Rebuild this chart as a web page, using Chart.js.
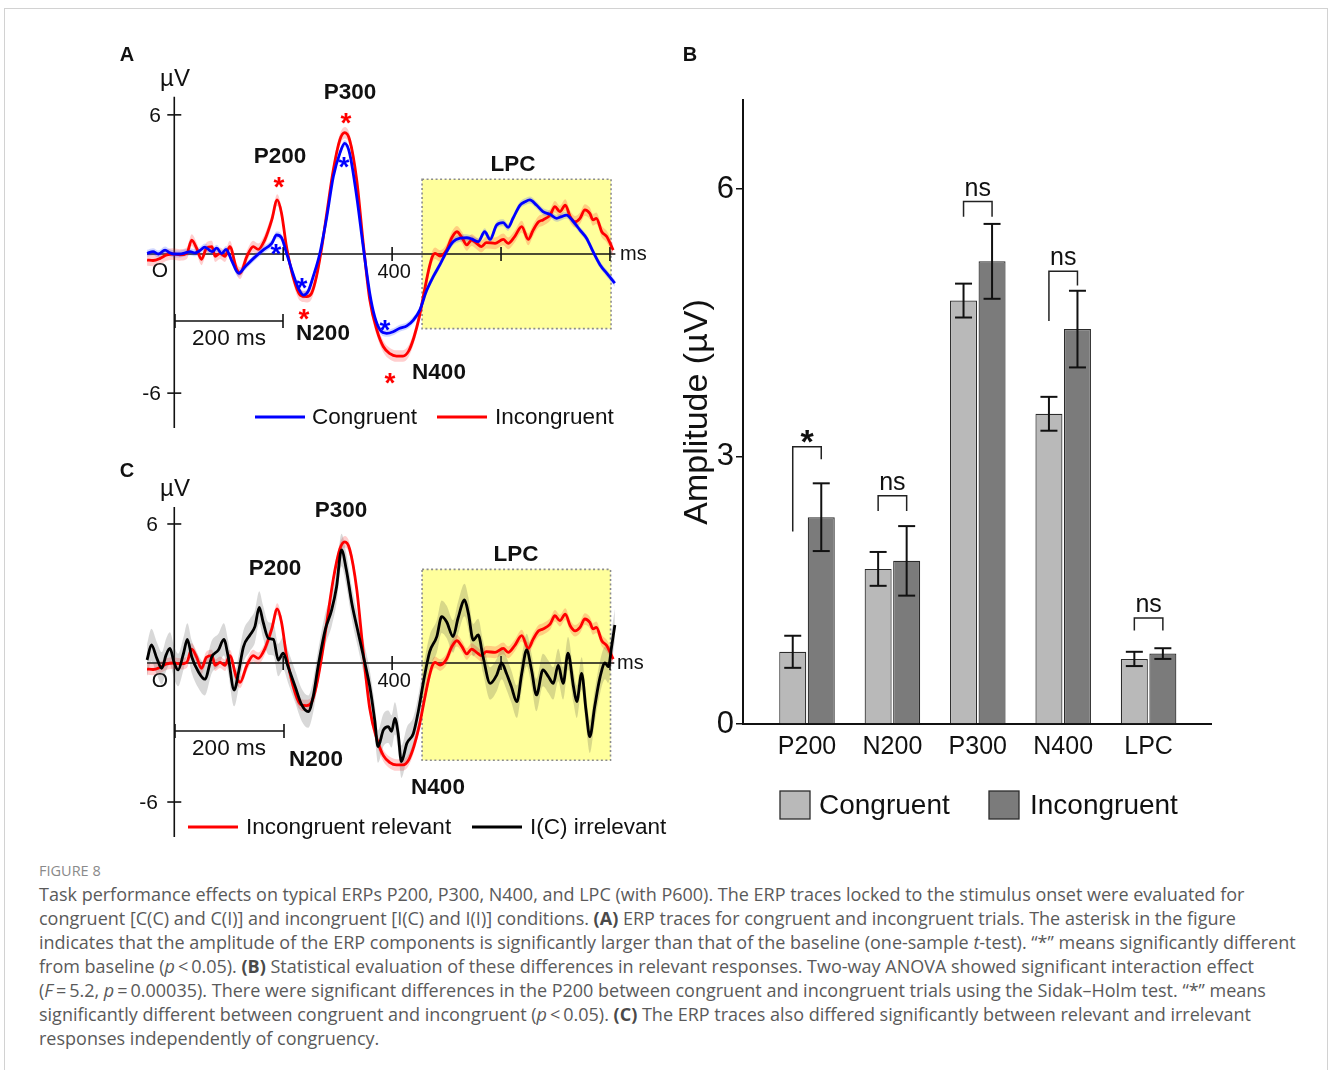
<!DOCTYPE html>
<html>
<head>
<meta charset="utf-8">
<script src="https://cdn.jsdelivr.net/npm/chart.js@4.4.1/dist/chart.umd.min.js"></script>
<style>
html,body{margin:0;padding:0;background:#fff;}
body{width:1328px;height:1070px;position:relative;overflow:hidden;font-family:"Liberation Sans",Arial,sans-serif;}
#frame{position:absolute;left:4px;top:8px;width:1324px;height:1120px;border:1px solid #d2d2d2;box-sizing:border-box;}
canvas{position:absolute;}
#cA{left:100px;top:40px;}
#cB{left:670px;top:40px;}
#cC{left:100px;top:450px;}
#figlabel{position:absolute;left:39px;top:861px;font-family:"Open Sans",Lato,sans-serif;font-size:14.5px;line-height:20px;color:#8a8a8a;}
#caption{position:absolute;left:39px;top:882px;font-family:"Open Sans",Lato,sans-serif;font-size:18px;line-height:24px;color:#5a5a5a;white-space:nowrap;}
#caption b{color:#4a4a4a;}
</style>
</head>
<body>
<div id="frame"></div>
<canvas id="cA" width="560" height="400"></canvas>
<canvas id="cC" width="580" height="400"></canvas>
<canvas id="cB" width="560" height="800"></canvas>
<div id="figlabel">FIGURE 8</div>
<div id="caption">Task performance effects on typical ERPs P200, P300, N400, and LPC (with P600). The ERP traces locked to the stimulus onset were evaluated for<br>congruent [C(C) and C(I)] and incongruent [I(C) and I(I)] conditions. <b>(A)</b> ERP traces for congruent and incongruent trials. The asterisk in the figure<br>indicates that the amplitude of the ERP components is significantly larger than that of the baseline (one-sample <i>t</i>-test). “*” means significantly different<br>from baseline (<i>p</i>&#8201;&lt;&#8201;0.05). <b>(B)</b> Statistical evaluation of these differences in relevant responses. Two-way ANOVA showed significant interaction effect<br>(<i>F</i>&#8201;=&#8201;5.2, <i>p</i>&#8201;=&#8201;0.00035). There were significant differences in the P200 between congruent and incongruent trials using the Sidak–Holm test. “*” means<br>significantly different between congruent and incongruent (<i>p</i>&#8201;&lt;&#8201;0.05). <b>(C)</b> The ERP traces also differed significantly between relevant and irrelevant<br>responses independently of congruency.</div>
<script>
// ---------------- DATA ----------------
// Panel A / C : ERP traces (time in ms, amplitude in µV)
const timeCongruent = [-50,-39,-29,-17,-8,0,10,20,29,38,47,56,69,78,87,95,105,118,130,145,163,179,188,197,206,218,228,237,246,255,267,280,292,304,313,322,335,347,359,368,378,390,402,414,427,439,451,463,475,488,500,512,525,537,546,558,570,580,592,604,613,622,635,644,653,665,677,690,702,711,720,733,745,757,769,782,794,809];
const congruentA = [0.03,0.1,0.0,0.17,0.05,0,0,0.05,0.1,0.05,0.15,0.3,0.1,0.25,0.02,0.2,-0.26,-0.83,-0.55,-0.2,0.17,0.46,0.82,0.7,0.05,-0.85,-1.48,-1.77,-1.6,-0.98,0,1.6,3.33,4.34,4.77,4.34,2.47,0.3,-1.7,-2.7,-3.28,-3.42,-3.35,-3.2,-3.1,-2.85,-2.41,-1.6,-1.0,-0.45,0.1,0.53,0.68,0.7,0.65,0.53,0.96,0.63,1.25,1.35,1.15,1.54,2.11,2.25,2.33,2.11,1.83,1.71,1.54,1.61,1.68,1.39,1.03,0.68,0.1,-0.47,-0.83,-1.26];

const timeIncongruent = [-50,-39,-26,-14,-2,10,23,32,41,50,59,69,75,84,93,102,114,121,133,145,154,166,179,189,197,206,218,231,243,252,261,270,280,292,304,313,322,335,347,359,372,384,396,408,420,430,440,450,460,468,474,479,488,500,509,519,528,537,546,555,564,573,589,604,613,625,638,650,659,669,677,690,699,708,718,727,736,745,754,763,769,775,785,794,806];
const incongruent = [-0.26,-0.28,-0.19,-0.04,0,-0.04,0.03,0.6,0.25,-0.23,0.25,0.32,-0.1,0.03,-0.1,0.32,-0.62,-0.83,-0.12,0.32,0.2,0.6,1.47,2.33,1.75,0.32,-0.98,-1.77,-1.84,-1.7,-0.98,0.17,1.75,3.62,4.92,5.23,4.92,3.19,0.46,-1.98,-3.28,-4.0,-4.3,-4.4,-4.4,-4.2,-3.6,-2.7,-1.5,-0.6,-0.11,0.03,-0.09,0.17,0.68,0.96,0.72,0.39,0.6,0.46,0.32,0.49,0.46,0.63,0.46,0.75,1.18,0.63,1.03,1.39,1.47,1.68,2.04,1.83,2.11,1.61,1.39,1.54,1.9,1.75,1.47,1.54,0.96,0.75,0.17];

const timeIrrelevant = [-50,-42,-32,-23,-15,-8,0,7,17,24,32,44,56,69,81,91,99,110,118,127,139,148,156,163,173,182,191,200,209,222,234,246,255,264,277,289,298,307,316,326,338,350,359,368,374,384,393,399,405,411,417,427,439,448,457,469,482,491,500,512,521,533,540,549,558,567,580,592,601,610,619,629,638,647,656,665,677,687,696,705,714,723,733,739,748,756,763,772,782,791,797,803,809];
const irrelevantC = [0.13,0.78,0.2,-0.23,0.35,0.63,0,-0.3,0.42,1.02,0.27,-0.37,-0.7,0.27,0.56,1.02,0.27,-1.17,-0.4,0.7,1.21,1.57,2.4,1.78,1.06,1.02,0.13,0.42,-0.16,-1.02,-1.81,-2.1,-1.45,-0.16,1.42,2.29,3.29,4.88,4.01,2.58,1.28,0,-1.02,-2.46,-3.61,-2.89,-2.75,-2.95,-2.39,-3.04,-4.26,-3.47,-3.04,-2.1,-0.88,0.49,1.14,2.0,1.78,1.14,1.93,2.72,2.14,0.99,1.21,0.27,-0.88,-0.52,0,-0.45,-1.02,-1.67,-0.45,0.56,-0.3,-1.38,-0.3,-0.59,-0.88,-0.09,-0.88,0.42,-1.02,-1.67,-0.45,-2.03,-3.18,-1.88,-0.59,0,-0.16,0.7,1.64];

const semCongruent = 0.15;
const semIncongruent = 0.25;
const semIrrelevant = 0.7;

const erpYTicks = [6, -6];
const erpXTicks = [200, 400, 600, 800];
const erpXTickLabels = {400: '400'};
const lpcWindowA = [455, 802], lpcRangeA = [-3.22, 3.22];
const lpcWindowC = [455, 801], lpcRangeC = [-4.2, 4.04];

// Panel B : component amplitudes (µV) with error bars
const components = ['P200', 'N200', 'P300', 'N400', 'LPC'];
const congruentAmp = [0.81, 1.74, 4.75, 3.48, 0.73];
const congruentErr = [0.18, 0.19, 0.19, 0.19, 0.08];
const incongruentAmp = [2.32, 1.83, 5.19, 4.43, 0.79];
const incongruentErr = [0.38, 0.39, 0.42, 0.43, 0.06];
const sigLabels = ['*', 'ns', 'ns', 'ns', 'ns'];
const bracketTop = [3.11, 2.56, 5.86, 5.08, 1.19];
const bracketLeftEnd = [2.16, 2.39, 5.69, 4.52, 1.05];
const bracketRightEnd = [2.97, 2.39, 5.69, 4.92, 1.05];
const yTicksB = [0, 3, 6];

// ---------------- RENDERING ----------------
const FONT = '"Liberation Sans", Arial, Helvetica, sans-serif';
Chart.defaults.font.family = FONT;
Chart.defaults.color = '#111';

function fnt(size, weight) { return (weight ? weight + ' ' : '') + size + 'px ' + FONT; }
function seg(ctx, x1, y1, x2, y2) { ctx.beginPath(); ctx.moveTo(x1, y1); ctx.lineTo(x2, y2); ctx.stroke(); }

function makeErp(id, o) {
  const datasets = [];
  o.series.forEach((s, k) => datasets.push({
    label: s.label, data: s.times.map((t, i) => ({x: t, y: s.values[i]})),
    borderColor: s.color, borderWidth: 2.8, pointRadius: 0, fill: false,
    cubicInterpolationMode: 'monotone', order: k
  }));
  o.series.forEach((s, k) => {
    datasets.push({label: s.label + ' upper', data: s.times.map((t, i) => ({x: t, y: s.values[i] + s.sem})),
      borderWidth: 0, borderColor: 'rgba(0,0,0,0)', pointRadius: 0, fill: '+1', backgroundColor: s.band,
      cubicInterpolationMode: 'monotone', order: 10 + 2 * k});
    datasets.push({label: s.label + ' lower', data: s.times.map((t, i) => ({x: t, y: s.values[i] - s.sem})),
      borderWidth: 0, borderColor: 'rgba(0,0,0,0)', pointRadius: 0, fill: false,
      cubicInterpolationMode: 'monotone', order: 11 + 2 * k});
  });
  const ox = o.ox, oy = o.oy;
  const decor = {
    id: 'erpDecor',
    beforeDatasetsDraw(chart) {
      const {ctx, scales: {x, y}} = chart;
      ctx.save();
      const bx0 = x.getPixelForValue(o.lpcWindow[0]), bx1 = x.getPixelForValue(o.lpcWindow[1]);
      const byT = y.getPixelForValue(o.lpcRange[1]), byB = y.getPixelForValue(o.lpcRange[0]);
      ctx.fillStyle = '#ffff9c';
      ctx.fillRect(bx0, byT, bx1 - bx0, byB - byT);
      ctx.setLineDash([2, 2.5]); ctx.strokeStyle = '#8c8c8c'; ctx.lineWidth = 1.6;
      ctx.strokeRect(bx0, byT, bx1 - bx0, byB - byT);
      ctx.setLineDash([]);
      // axes
      const x0 = x.getPixelForValue(0), y0 = y.getPixelForValue(0);
      ctx.strokeStyle = '#111'; ctx.lineWidth = 1.6;
      seg(ctx, x.getPixelForValue(o.xAxis[0]), y0, x.getPixelForValue(o.xAxis[1]), y0);
      seg(ctx, x0, y.getPixelForValue(o.yAxis[0]), x0, y.getPixelForValue(o.yAxis[1]));
      ctx.fillStyle = '#111';
      erpYTicks.forEach(v => {
        const py = y.getPixelForValue(v);
        seg(ctx, x0 - 7, py, x0 + 7, py);
        ctx.font = fnt(21); ctx.textAlign = 'right'; ctx.textBaseline = 'middle';
        ctx.fillText(String(v), o.yLabelRight - ox, py + 1);
      });
      erpXTicks.forEach(t => {
        const px = x.getPixelForValue(t);
        seg(ctx, px, y0 - 7, px, y0 + 7);
        if (erpXTickLabels[t]) {
          ctx.font = fnt(20); ctx.textAlign = 'center'; ctx.textBaseline = 'middle';
          ctx.fillText(erpXTickLabels[t], px + 2, y0 + 18);
        }
      });
      ctx.restore();
    },
    afterDatasetsDraw(chart) {
      const {ctx} = chart;
      ctx.save();
      ctx.fillStyle = '#111';
      o.texts.forEach(([t, px, py, w, size, align]) => {
        ctx.font = fnt(size, w); ctx.textAlign = align || 'center'; ctx.textBaseline = 'middle';
        ctx.fillText(t, px - ox, py - oy);
      });
      // scale bar
      ctx.strokeStyle = '#111'; ctx.lineWidth = 1.6;
      const sb = o.scaleBar;
      seg(ctx, sb[0] - ox, sb[2] - oy, sb[1] - ox, sb[2] - oy);
      seg(ctx, sb[0] - ox, sb[2] - oy - 7, sb[0] - ox, sb[2] - oy + 7);
      seg(ctx, sb[1] - ox, sb[2] - oy - 7, sb[1] - ox, sb[2] - oy + 7);
      // asterisks
      (o.stars || []).forEach(([px, py, c]) => {
        ctx.fillStyle = c; ctx.font = fnt(28, 'bold'); ctx.textAlign = 'center'; ctx.textBaseline = 'alphabetic';
        ctx.fillText('*', px - ox, py - oy + 16);
      });
      // legend
      o.legend.forEach(([lx, ly, tx], k) => {
        const ds = chart.data.datasets[k];
        ctx.strokeStyle = ds.borderColor; ctx.lineWidth = 3;
        seg(ctx, lx - ox, ly - oy, lx + 50 - ox, ly - oy);
        ctx.fillStyle = '#111'; ctx.font = fnt(22.5); ctx.textAlign = 'left'; ctx.textBaseline = 'middle';
        ctx.fillText(ds.label, tx - ox, ly - oy + 1);
      });
      ctx.restore();
    }
  };
  return new Chart(document.getElementById(id), {
    type: 'line',
    data: {datasets},
    options: {
      responsive: false, animation: false, events: [],
      layout: {padding: 0},
      plugins: {legend: {display: false}, tooltip: {enabled: false}},
      scales: {
        x: {type: 'linear', min: o.xr[0], max: o.xr[1], display: false},
        y: {type: 'linear', min: o.yr[0], max: o.yr[1], display: false}
      }
    },
    plugins: [decor]
  });
}

// Panel A
makeErp('cA', {
  ox: 100, oy: 40, xr: [-136.4, 891.9], yr: [-8.021, 9.228],
  series: [
    {label: 'Congruent', times: timeCongruent, values: congruentA, sem: semCongruent, color: '#0000ff', band: 'rgba(40,70,255,0.22)'},
    {label: 'Incongruent', times: timeIncongruent, values: incongruent, sem: semIncongruent, color: '#ff0000', band: 'rgba(255,30,30,0.22)'}
  ],
  lpcWindow: lpcWindowA, lpcRange: lpcRangeA,
  xAxis: [-50, 810], yAxis: [6.78, -7.5], yLabelRight: 161,
  texts: [
    ['A', 127, 55, 'bold', 20], ['µV', 175, 79, '', 24], ['O', 160, 271, '', 21],
    ['P200', 280, 157, 'bold', 22.5], ['P300', 350, 93, 'bold', 22.5], ['LPC', 513, 165, 'bold', 22.5],
    ['N200', 323, 334, 'bold', 22.5], ['N400', 439, 373, 'bold', 22.5],
    ['200 ms', 229, 339, '', 22.5], ['ms', 620, 254, '', 20, 'left']
  ],
  scaleBar: [175, 283, 321],
  stars: [[279, 180, '#ff0000'], [346, 116, '#ff0000'], [304, 312, '#ff0000'], [390, 376, '#ff0000'],
          [276, 247, '#0000ff'], [344, 160, '#0000ff'], [302, 281, '#0000ff'], [385, 323, '#0000ff']],
  legend: [[255, 417, 312], [437, 417, 495]]
});

// Panel C
makeErp('cC', {
  ox: 100, oy: 450, xr: [-136.4, 928.6], yr: [-8.071, 9.193],
  series: [
    {label: 'I(C) irrelevant', times: timeIrrelevant, values: irrelevantC, sem: semIrrelevant, color: '#000000', band: 'rgba(60,60,60,0.2)'},
    {label: 'Incongruent relevant', times: timeIncongruent, values: incongruent, sem: semIncongruent, color: '#ff0000', band: 'rgba(255,30,30,0.22)'}
  ],
  lpcWindow: lpcWindowC, lpcRange: lpcRangeC,
  xAxis: [-50, 808], yAxis: [6.73, -7.51], yLabelRight: 158,
  texts: [
    ['C', 127, 471, 'bold', 20], ['µV', 175, 489, '', 24], ['O', 160, 681, '', 21],
    ['P200', 275, 569, 'bold', 22.5], ['P300', 341, 511, 'bold', 22.5], ['LPC', 516, 555, 'bold', 22.5],
    ['N200', 316, 760, 'bold', 22.5], ['N400', 438, 788, 'bold', 22.5],
    ['200 ms', 229, 749, '', 22.5], ['ms', 617, 663, '', 20, 'left']
  ],
  scaleBar: [175, 284, 731],
  stars: [],
  legend: [[472, 827, 530], [188, 827, 246]]
});

// Panel B
const barDecor = {
  id: 'barDecor',
  afterDatasetsDraw(chart) {
    const {ctx, scales: {y}} = chart;
    const ox = 670, oy = 40;
    const m0 = chart.getDatasetMeta(0).data, m1 = chart.getDatasetMeta(1).data;
    ctx.save();
    ctx.strokeStyle = '#111'; ctx.lineWidth = 2;
    const errs = [[m0, congruentAmp, congruentErr], [m1, incongruentAmp, incongruentErr]];
    errs.forEach(([meta, amp, err]) => meta.forEach((el, i) => {
      const yt = y.getPixelForValue(amp[i] + err[i]), yb = y.getPixelForValue(amp[i] - err[i]);
      seg(ctx, el.x, yt, el.x, yb);
      seg(ctx, el.x - 8.5, yt, el.x + 8.5, yt);
      seg(ctx, el.x - 8.5, yb, el.x + 8.5, yb);
    }));
    // significance brackets
    ctx.lineWidth = 1.5; ctx.strokeStyle = '#222';
    components.forEach((c, i) => {
      const xl = m0[i].x, xr = m1[i].x;
      const yt = y.getPixelForValue(bracketTop[i]);
      ctx.beginPath();
      ctx.moveTo(xl, y.getPixelForValue(bracketLeftEnd[i]));
      ctx.lineTo(xl, yt); ctx.lineTo(xr, yt);
      ctx.lineTo(xr, y.getPixelForValue(bracketRightEnd[i]));
      ctx.stroke();
      ctx.fillStyle = '#111'; ctx.textAlign = 'center'; ctx.textBaseline = 'alphabetic';
      if (sigLabels[i] === '*') { ctx.font = fnt(34, 'bold'); ctx.fillText('*', (xl + xr) / 2, yt + 6); }
      else { ctx.font = fnt(25); ctx.fillText(sigLabels[i], (xl + xr) / 2, yt - 6); }
    });
    // panel label
    ctx.fillStyle = '#111'; ctx.font = fnt(20, 'bold'); ctx.textAlign = 'center'; ctx.textBaseline = 'middle';
    ctx.fillText('B', 690 - ox, 55 - oy);
    // legend
    const items = [[780, 819], [989, 1030]];
    chart.data.datasets.forEach((ds, k) => {
      const [bx, tx] = items[k];
      ctx.fillStyle = ds.backgroundColor; ctx.fillRect(bx - ox, 791 - oy, 30, 28);
      ctx.strokeStyle = '#2b2b2b'; ctx.lineWidth = 1.3; ctx.strokeRect(bx - ox, 791 - oy, 30, 28);
      ctx.fillStyle = '#111'; ctx.font = fnt(28); ctx.textAlign = 'left'; ctx.textBaseline = 'middle';
      ctx.fillText(ds.label, tx - ox, 806 - oy);
    });
    ctx.restore();
  }
};

new Chart(document.getElementById('cB'), {
  type: 'bar',
  data: {
    datasets: [
      {label: 'Congruent', data: components.map((c, i) => ({x: i, y: congruentAmp[i]})),
       backgroundColor: '#b9b9b9', borderColor: '#2b2b2b', borderWidth: 1.2, categoryPercentage: 0.668, barPercentage: 0.947},
      {label: 'Incongruent', data: components.map((c, i) => ({x: i, y: incongruentAmp[i]})),
       backgroundColor: '#7b7b7b', borderColor: '#2b2b2b', borderWidth: 1.2, categoryPercentage: 0.668, barPercentage: 0.947}
    ]
  },
  options: {
    responsive: false, animation: false, events: [],
    layout: {padding: {top: 60, left: 0, right: 19, bottom: 66}},
    plugins: {legend: {display: false}, tooltip: {enabled: false}},
    scales: {
      x: {
        type: 'linear', min: -0.7494, max: 4.7307, offset: false,
        afterBuildTicks: (s) => { s.ticks = components.map((c, i) => ({value: i})); },
        ticks: {callback: (v) => components[v] || '', font: {size: 25}, color: '#111', padding: 8, autoSkip: false, maxRotation: 0},
        grid: {display: false, drawTicks: false},
        border: {display: true, color: '#111', width: 2},
        afterFit: (s) => { s.height = 50; }
      },
      y: {
        type: 'linear', min: 0, max: 7,
        afterBuildTicks: (s) => { s.ticks = yTicksB.map(v => ({value: v})); },
        ticks: {font: {size: 31}, color: '#111', padding: 2},
        grid: {drawOnChartArea: false, drawTicks: true, tickLength: 7, color: '#111', lineWidth: 1.5},
        border: {display: true, color: '#111', width: 2},
        title: {display: true, text: 'Amplitude (µV)', font: {size: 34}, color: '#111', padding: {top: 7, bottom: 0}},
        afterFit: (s) => { s.width = 73; }
      }
    }
  },
  plugins: [barDecor]
});
</script>
</body>
</html>
